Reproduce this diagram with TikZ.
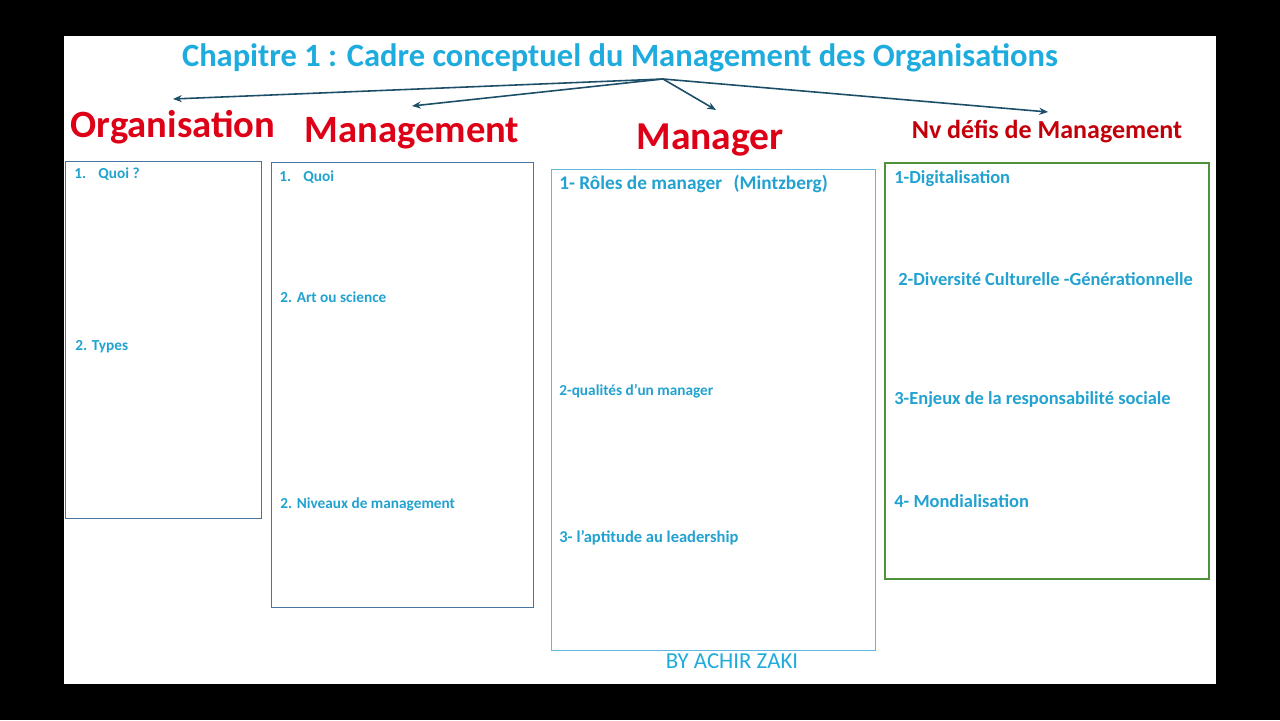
\documentclass[tikz,border=0pt]{standalone}
\usepackage{fontspec}
\setmainfont{Carlito}
\usepackage{tikz}
\usetikzlibrary{arrows.meta}

\definecolor{titlecyan}{RGB}{30,172,222}
\definecolor{itemcyan}{RGB}{34,162,208}
\definecolor{headred}{RGB}{222,0,22}
\definecolor{nvred}{RGB}{195,0,10}
\definecolor{arrowteal}{RGB}{28,78,104}
\definecolor{framblue}{RGB}{70,115,160}
\definecolor{framcyan}{RGB}{95,185,222}
\definecolor{framgreen}{RGB}{80,145,60}

\begin{document}
\begin{tikzpicture}[x=0.02cm,y=-0.02cm,
	heading/.style={text=headred,font=\fontsize{22}{26}\selectfont\bfseries,inner sep=0pt},
	item/.style={text=itemcyan,font=\fontsize{8.7}{10}\selectfont\bfseries,inner sep=0pt,anchor=west},
	defi/.style={item,font=\fontsize{10.5}{12}\selectfont\bfseries},
	frame/.style={draw=#1,line width=0.55pt},
	link/.style={arrowteal,line width=0.9pt,-{Stealth[length=5pt,width=4pt]}}]
%	\draw[help lines, color=black!30, step=40,ultra thin](0,0)grid(1280,720);

	\useasboundingbox (0,0) rectangle (1280,720);
	\fill [black](0,0) rectangle (1280,720);
	\fill [white](64,36) rectangle (1216,684);

	% title and arrows
	\node (title) at (620,58)[text=titlecyan,font=\fontsize{18.5}{22}\selectfont\bfseries,inner sep=0pt]{Chapitre 1 : Cadre conceptuel du Management des Organisations};
	\coordinate (hub) at (663,79);

	\node (org) at (173,127)[heading]{Organisation};
	\node (mgt) at (412,133)[heading]{Management};
	\node (mgr) at (710,140)[heading,font=\fontsize{22.5}{27}\selectfont\bfseries]{Manager};
	\node (nv) at (1047,132)[heading,text=nvred,font=\fontsize{14.8}{17}\selectfont\bfseries]{Nv défis de Management};

	\coordinate (orgtip) at (173,99);
	\coordinate (mgttip) at (412,106);
	\coordinate (mgrtip) at (716,110);
	\coordinate (nvtip) at (1048,112);
	\draw [link](hub)--(orgtip);
	\draw [link](hub)--(mgttip);
	\draw [link](hub)--(mgrtip);
	\draw [link](hub)--(nvtip);

	% frames
	\draw [frame=framblue](65,161) rectangle (261,518);
	\draw [frame=framblue](271,162) rectangle (533,607);
	\draw [frame=framcyan](551,169) rectangle (875,650);
	\draw [frame=framgreen,line width=0.7pt](885,163) rectangle (1209,579);

	% Organisation
	\node (orgq) at (74,174)[item]{1.\hspace{0.8em}Quoi ?};
	\node (orgt) at (75,347)[item]{2. Types};

	% Management
	\node (mgtq) at (279,177)[item]{1.\hspace{0.8em}Quoi};
	\node (mgta) at (280,297)[item]{2. Art ou science};
	\node (mgtn) at (280,504)[item]{2. Niveaux de management};

	% Manager
	\node (mgrr) at (559,184)[item,font=\fontsize{11}{13}\selectfont\bfseries]{1- Rôles de manager\hspace{0.6em}(Mintzberg)};
	\node (mgrq) at (559,391)[item]{2-qualités d’un manager};
	\node (mgrl) at (559,538)[item,font=\fontsize{9.4}{11}\selectfont\bfseries]{3- l’aptitude au leadership};

	% Nv defis
	\node (nvd) at (894,179)[defi]{1-Digitalisation};
	\node (nvc) at (898,279)[defi]{2-Diversité Culturelle -Générationnelle};
	\node (nve) at (894,400)[defi]{3-Enjeux de la responsabilité sociale};
	\node (nvm) at (894,501)[defi]{4- Mondialisation};

	\node (by) at (732,661)[text=titlecyan,font=\fontsize{13}{15}\selectfont,inner sep=0pt]{BY ACHIR ZAKI};

\end{tikzpicture}
\end{document}
